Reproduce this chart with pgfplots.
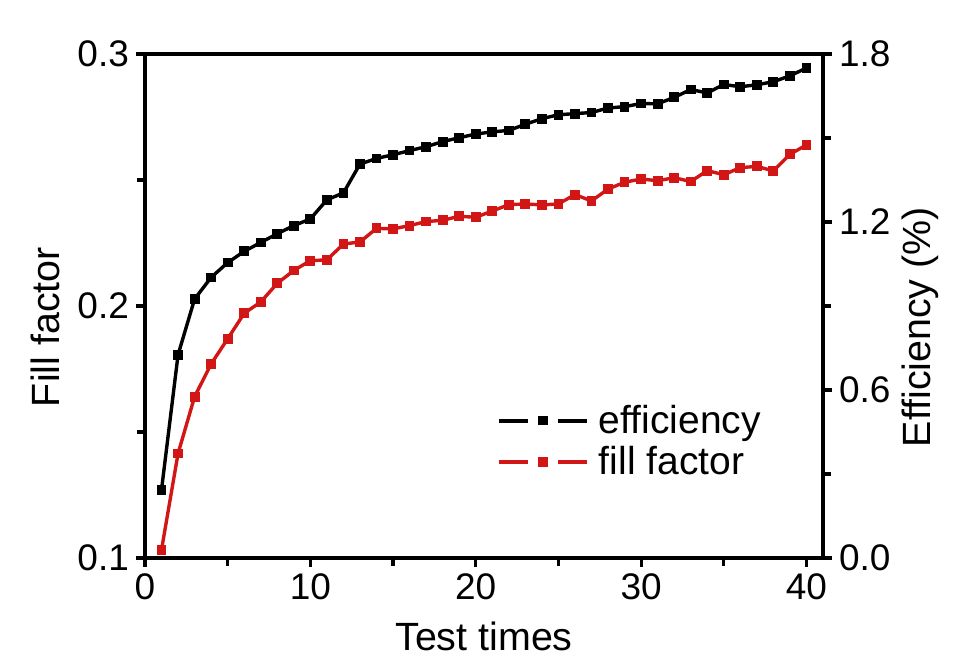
\documentclass[border=0pt]{standalone}
\usepackage{fontspec}
\setmainfont{Liberation Sans}
\usepackage{pgfplots}
\pgfplotsset{compat=1.18}
\definecolor{ffred}{RGB}{210,22,22}
\begin{document}
\begin{tikzpicture}
\useasboundingbox (-72.5pt,-57pt) rectangle (411.5pt,279pt);
\pgfplotsset{
  myaxis/.style={
    at={(0,0)}, anchor=south west,
    scale only axis, width=339pt, height=252pt,
    xmin=0, xmax=41,
    /pgf/number format/assume math mode=true,
    tick label style={font=\fontsize{18.5}{21}\selectfont},
    label style={font=\fontsize{19.7}{23}\selectfont},
    tick align=outside,
    major tick length=4.5pt, minor tick length=4pt,
    every tick/.style={line width=1.6pt, black},
    axis line style={line width=2.4pt},
    every axis plot/.append style={line width=1.7pt, mark=square*, mark size=1.6pt},
  }
}
\begin{axis}[myaxis,
  ymin=0.1, ymax=0.3,
  xtick={0,10,20,30,40}, minor x tick num=1,
  ytick={0.1,0.2,0.3}, minor y tick num=1,
  xtick pos=lower, ytick pos=left,
  yticklabel style={/pgf/number format/.cd, fixed, fixed zerofill, precision=1},
  xlabel={Test times},
  ylabel={Fill factor},
  xlabel style={at={(axis description cs:0.5,-0.155)}, anchor=center},
  ylabel style={at={(axis description cs:-0.1475,0.458)}, anchor=center},
]
\addplot[ffred, mark options={ffred}] coordinates {
(1,0.1033) (2,0.1415) (3,0.1640) (4,0.1770) (5,0.1870) (6,0.1971) (7,0.2016) (8,0.2090) (9,0.2141) (10,0.2180)
(11,0.2183) (12,0.2246) (13,0.2254) (14,0.2308) (15,0.2306) (16,0.2319) (17,0.2335) (18,0.2340) (19,0.2356) (20,0.2352)
(21,0.2377) (22,0.2402) (23,0.2405) (24,0.2401) (25,0.2405) (26,0.2442) (27,0.2417) (28,0.2464) (29,0.2491) (30,0.2504)
(31,0.2497) (32,0.2509) (33,0.2494) (34,0.2537) (35,0.2521) (36,0.2549) (37,0.2554) (38,0.2536) (39,0.2602) (40,0.2639)
};
\end{axis}
\begin{axis}[myaxis,
  ymin=0, ymax=1.8,
  axis x line=none, axis y line*=right,
  ytick={0,0.6,1.2,1.8}, minor y tick num=1,
  yticklabel style={/pgf/number format/.cd, fixed, fixed zerofill, precision=1},
  ylabel={Efficiency (\%)},
  ylabel style={at={(axis description cs:1.143,0.458)}, anchor=center, rotate=0},
  legend style={at={(axis description cs:0.51,0.32)}, anchor=north west, draw=none, fill=none,
    font=\fontsize{19.5}{23}\selectfont, row sep=1pt},
  legend image code/.code={
    \path[draw=none, fill=none] (0pt,0pt) -- (48pt,0pt);
    \draw[#1, mark=none, line width=1.8pt] (0pt,0pt) -- (14.5pt,0pt);
    \draw[#1, mark=none, line width=1.8pt] (29.5pt,0pt) -- (44pt,0pt);
    \draw[#1] plot coordinates {(22pt,0pt)};},
  legend cell align=left,
]
\addlegendimage{black, line width=1.7pt, mark=square*, mark size=1.5pt}
\addlegendentry{efficiency}
\addlegendimage{ffred, line width=1.7pt, mark=square*, mark size=1.5pt}
\addlegendentry{fill factor}
\addplot[black, mark options={black}] coordinates {
(1,0.244) (2,0.726) (3,0.925) (4,1.002) (5,1.055) (6,1.095) (7,1.127) (8,1.158) (9,1.187) (10,1.211)
(11,1.279) (12,1.304) (13,1.407) (14,1.427) (15,1.440) (16,1.455) (17,1.469) (18,1.487) (19,1.501) (20,1.514)
(21,1.522) (22,1.527) (23,1.549) (24,1.569) (25,1.583) (26,1.587) (27,1.591) (28,1.607) (29,1.612) (30,1.623)
(31,1.622) (32,1.645) (33,1.673) (34,1.661) (35,1.691) (36,1.683) (37,1.690) (38,1.701) (39,1.722) (40,1.750)
};
\end{axis}
\end{tikzpicture}
\end{document}
